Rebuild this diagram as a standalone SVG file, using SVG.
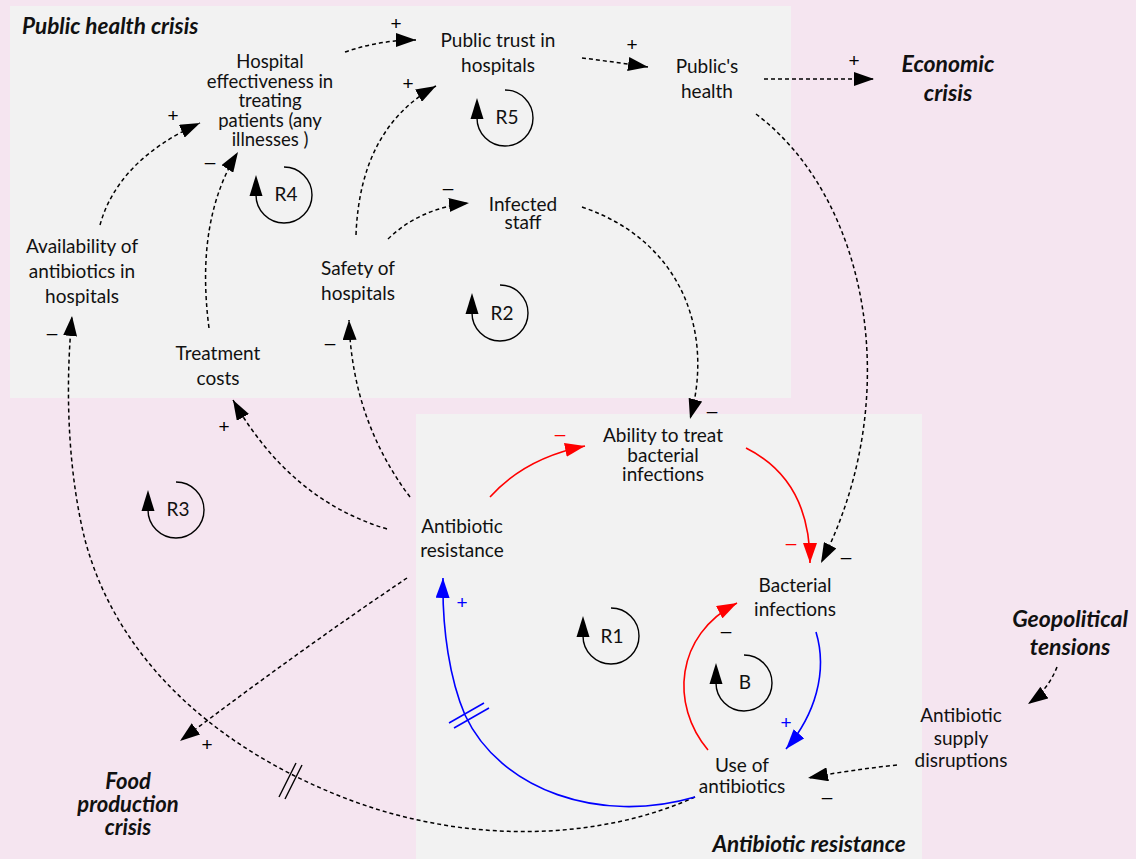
<svg xmlns="http://www.w3.org/2000/svg" width="1136" height="859" viewBox="0 0 1136 859">
<style>
.t{font-family:Lato,"Open Sans","Liberation Sans",sans-serif;font-size:19px;fill:#111;text-anchor:middle}
.h{font-family:Lato,"Open Sans","Liberation Sans",sans-serif;font-weight:bold;font-style:italic;font-size:23px;fill:#111;text-anchor:middle}
.p{font-family:"Liberation Sans",sans-serif;font-size:19px;fill:#000;text-anchor:middle}
.d{fill:none;stroke:#000;stroke-width:1.5;stroke-dasharray:4 3;marker-end:url(#ah)}
.r{fill:none;stroke:#f00;stroke-width:1.6;marker-end:url(#ahr)}
.b{fill:none;stroke:#00f;stroke-width:1.6;marker-end:url(#ahb)}
.lp{fill:none;stroke:#000;stroke-width:1.4}
</style>
<defs>
<marker id="ah" markerUnits="userSpaceOnUse" markerWidth="21" markerHeight="14" refX="20" refY="7" orient="auto"><path d="M0,0 L20,7 L0,14 z" fill="#000"/></marker>
<marker id="ahr" markerUnits="userSpaceOnUse" markerWidth="21" markerHeight="14" refX="20" refY="7" orient="auto"><path d="M0,0 L20,7 L0,14 z" fill="#f00"/></marker>
<marker id="ahb" markerUnits="userSpaceOnUse" markerWidth="21" markerHeight="14" refX="20" refY="7" orient="auto"><path d="M0,0 L20,7 L0,14 z" fill="#00f"/></marker>
</defs>
<rect x="0" y="0" width="1136" height="859" fill="#F5E5F0"/>
<rect x="10" y="6" width="781" height="392" fill="#F2F2F2"/>
<rect x="416" y="414" width="506" height="445" fill="#F2F2F2"/>

<g id="titles">
<text class="h" x="22" y="34" style="text-anchor:start;font-size:22.5px">Public health crisis</text>
<text class="h" x="809" y="852" style="font-size:22.5px">Antibiotic resistance</text>
</g>

<g id="connectors">
<path class="d" d="M100,225 Q118,160 200,123"/>
<path class="d" d="M209,328 Q195,220 238,152"/>
<path class="d" d="M356,235 Q360,128 436,86"/>
<path class="d" d="M388,239 Q420,208 469,203"/>
<path class="d" d="M345,52 Q380,40 416,40"/>
<path class="d" d="M582,58 Q615,62 648,67"/>
<path class="d" d="M764,79 L874,79"/>
<path class="d" d="M756,114 C870,200 905,400 821,563"/>
<path class="d" d="M582,207 C680,240 715,330 690,419"/>
<path class="d" d="M410,497 Q352,420 349,320"/>
<path class="d" d="M387,529 Q290,500 233,400"/>
<path class="d" d="M407,578 Q300,650 180,741"/>
<path class="d" d="M695,797 C600,840 470,845 350,800 C230,755 120,670 85,540 C70,480 64,400 72,316"/>
<path class="d" d="M897,765 Q850,770 808,778"/>
<path class="d" d="M1057,667 Q1048,690 1028,704"/>
<path class="r" d="M490,497 Q525,458 585,446"/>
<path class="r" d="M746,448 Q810,480 810,563"/>
<path class="r" d="M708,750 C670,705 675,635 737,603"/>
<path class="b" d="M816,632 C828,672 815,715 786,749"/>
<path class="b" d="M695,797 C600,825 500,790 465,715 C450,680 442,630 443,578"/>
<g stroke="#000" stroke-width="1.4">
<line x1="279" y1="797" x2="296" y2="763"/>
<line x1="285" y1="799" x2="302" y2="765"/>
</g>
<g stroke="#00f" stroke-width="1.6">
<line x1="449" y1="723" x2="484" y2="703"/>
<line x1="454" y1="728" x2="489" y2="708"/>
</g>
</g>

<g id="polarities">
<text class="p" x="173" y="122">+</text>
<text class="p" x="210" y="168">–</text>
<text class="p" x="396" y="30">+</text>
<text class="p" x="408" y="90">+</text>
<text class="p" x="448" y="194">–</text>
<text class="p" x="632" y="51">+</text>
<text class="p" x="854" y="67">+</text>
<text class="p" x="846" y="563">–</text>
<text class="p" x="712" y="417">–</text>
<text class="p" x="330" y="349">–</text>
<text class="p" x="224" y="433">+</text>
<text class="p" x="207" y="751">+</text>
<text class="p" x="52" y="339">–</text>
<text class="p" x="827" y="803">–</text>
<text class="p" x="726" y="637">–</text>
<text class="p" x="560" y="440" style="fill:#f00">–</text>
<text class="p" x="791" y="549" style="fill:#f00">–</text>
<text class="p" x="786" y="729" style="fill:#00f">+</text>
<text class="p" x="462" y="609" style="fill:#00f">+</text>
</g>

<g id="loops">
<g id="loop-R5"><path class="lp" d="M505,90 A28,28 0 1 1 477,118"/><path d="M477,98 L470.5,119 L483.5,119 z"/><text class="t" x="507" y="124">R5</text></g>
<g id="loop-R4"><path class="lp" d="M284,167 A28,28 0 1 1 256,195"/><path d="M256,175 L249.5,196 L262.5,196 z"/><text class="t" x="286" y="201">R4</text></g>
<g id="loop-R2"><path class="lp" d="M500,285 A28,28 0 1 1 472,313"/><path d="M472,293 L465.5,314 L478.5,314 z"/><text class="t" x="502" y="320">R2</text></g>
<g id="loop-R3"><path class="lp" d="M176,482 A28,28 0 1 1 148,510"/><path d="M148,490 L141.5,511 L154.5,511 z"/><text class="t" x="178" y="516">R3</text></g>
<g id="loop-R1"><path class="lp" d="M611,608 A28,28 0 1 1 583,636"/><path d="M583,616 L576.5,637 L589.5,637 z"/><text class="t" x="612" y="643">R1</text></g>
<g id="loop-B"><path class="lp" d="M744,655 A28,28 0 1 1 716,683"/><path d="M716,663 L709.5,684 L722.5,684 z"/><text class="t" x="745" y="689">B</text></g>
</g>

<g id="node-hospital-effectiveness"><text class="t" x="270" y="68" style="font-size:18.5px">Hospital</text><text class="t" x="270" y="88" style="font-size:18.5px">effectiveness in</text><text class="t" x="270" y="107" style="font-size:18.5px">treating</text><text class="t" x="270" y="127" style="font-size:18.5px">patients (any</text><text class="t" x="270" y="146" style="font-size:18.5px">illnesses )</text></g>
<g id="node-public-trust"><text class="t" x="498" y="47">Public trust in</text><text class="t" x="498" y="72">hospitals</text></g>
<g id="node-publics-health"><text class="t" x="707" y="73">Public's</text><text class="t" x="707" y="98">health</text></g>
<g id="node-economic-crisis"><text class="h" x="948" y="72">Economic</text><text class="h" x="948" y="101">crisis</text></g>
<g id="node-infected-staff"><text class="t" x="523" y="211">Infected</text><text class="t" x="523" y="229">staff</text></g>
<g id="node-safety"><text class="t" x="358" y="275">Safety of</text><text class="t" x="358" y="300">hospitals</text></g>
<g id="node-availability"><text class="t" x="82" y="253">Availability of</text><text class="t" x="82" y="278">antibiotics in</text><text class="t" x="82" y="303">hospitals</text></g>
<g id="node-treatment-costs"><text class="t" x="218" y="360">Treatment</text><text class="t" x="218" y="385">costs</text></g>
<g id="node-ability"><text class="t" x="663" y="442">Ability to treat</text><text class="t" x="663" y="462">bacterial</text><text class="t" x="663" y="481">infections</text></g>
<g id="node-antibiotic-resistance"><text class="t" x="462" y="533">Antibiotic</text><text class="t" x="462" y="557">resistance</text></g>
<g id="node-bacterial-infections"><text class="t" x="795" y="592">Bacterial</text><text class="t" x="795" y="616">infections</text></g>
<g id="node-use-of-antibiotics"><text class="t" x="742" y="772">Use of</text><text class="t" x="742" y="793">antibiotics</text></g>
<g id="node-supply-disruptions"><text class="t" x="961" y="722">Antibiotic</text><text class="t" x="961" y="745">supply</text><text class="t" x="961" y="767">disruptions</text></g>
<g id="node-geopolitical"><text class="h" x="1070" y="627">Geopolitical</text><text class="h" x="1070" y="655">tensions</text></g>
<g id="node-food-production"><text class="h" x="128" y="789" style="font-size:22px">Food</text><text class="h" x="128" y="812" style="font-size:22px">production</text><text class="h" x="128" y="835" style="font-size:22px">crisis</text></g>
</svg>
